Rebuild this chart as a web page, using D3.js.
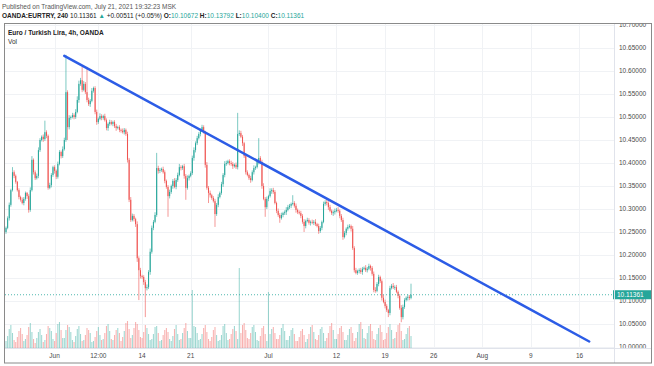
<!DOCTYPE html>
<html>
<head>
<meta charset="utf-8">
<script src="https://cdn.jsdelivr.net/npm/d3@7"></script>
<style>
    body { margin: 0; background: #fff; }
    svg { display: block; font-family: "Liberation Sans", Arial, sans-serif; }
</style>
</head>
<body>
<script>
// OANDA:EURTRY 4h bars
const startDate = "2021-05-25"
const barHours = 4
const firstOpen = 10.250

const closes = [
    10.259,10.280,10.309,10.341,10.380,10.372,10.359,10.341,10.326,10.320,
    10.313,10.322,10.335,10.328,10.298,10.341,10.407,10.380,10.367,10.372,
    10.428,10.450,10.457,10.452,10.467,10.459,10.346,10.352,10.374,10.391,
    10.383,10.370,10.398,10.424,10.415,10.430,10.450,10.554,10.478,10.498,
    10.500,10.504,10.500,10.511,10.537,10.572,10.580,10.559,10.572,10.554,
    10.537,10.528,10.535,10.557,10.563,10.511,10.489,10.496,10.502,10.498,
    10.502,10.493,10.476,10.485,10.489,10.485,10.489,10.480,10.476,10.478,
    10.472,10.470,10.467,10.472,10.463,10.407,10.320,10.276,10.285,10.278,
    10.267,10.193,10.167,10.154,10.152,10.141,10.128,10.130,10.163,10.207,
    10.259,10.272,10.287,10.389,10.383,10.385,10.387,10.380,10.361,10.348,
    10.328,10.337,10.350,10.361,10.348,10.363,10.374,10.391,10.389,10.393,
    10.372,10.346,10.367,10.372,10.378,10.411,10.428,10.443,10.454,10.463,
    10.472,10.478,10.467,10.396,10.346,10.335,10.330,10.324,10.317,10.289,
    10.309,10.326,10.335,10.354,10.374,10.398,10.400,10.404,10.400,10.398,
    10.393,10.396,10.391,10.463,10.465,10.457,10.443,10.415,10.380,10.374,
    10.367,10.363,10.380,10.389,10.391,10.402,10.411,10.402,10.350,10.322,
    10.304,10.322,10.328,10.339,10.341,10.337,10.313,10.296,10.287,10.280,
    10.287,10.291,10.293,10.298,10.304,10.307,10.311,10.313,10.307,10.298,
    10.293,10.291,10.285,10.272,10.263,10.274,10.276,10.270,10.272,10.270,
    10.272,10.267,10.263,10.252,10.259,10.272,10.311,10.315,10.313,10.304,
    10.296,10.291,10.293,10.296,10.298,10.296,10.285,10.276,10.239,10.248,
    10.257,10.261,10.263,10.257,10.215,10.167,10.161,10.165,10.167,10.163,
    10.170,10.172,10.167,10.170,10.176,10.172,10.159,10.124,10.122,10.137,
    10.152,10.143,10.107,10.098,10.089,10.080,10.074,10.128,10.133,10.130,
    10.130,10.120,10.111,10.085,10.065,10.087,10.102,10.107,10.109,10.10672,
    10.11361
]

// wick lengths above / below the body, in 0.001
const wickHi = [
    3,4,5,3,11,4,3,2,4,3, 5,4,3,2,4,6,8,3,4,5, 6,4,3,5,25,4,3,5,4,3, 4,3,5,4,3,6,5,81,4,6,
    3,5,4,6,8,7,5,29,6,4, 55,5,4,6,3,4,5,3,6,4, 3,5,4,3,5,4,3,4,5,3, 4,3,5,4,3,5,4,6,5,4,
    3,6,4,5,3,4,5,6,4,7, 5,4,6,33,5,4,3,5,4,3, 4,5,3,4,6,4,5,7,4,3, 5,4,6,3,4,5,6,4,5,4,
    3,5,4,3,6,4,5,3,4,5, 4,6,3,5,4,6,5,3,4,5, 4,3,5,46,6,5,4,3,5,4, 3,5,4,6,3,5,43,4,5,6,
    4,5,3,6,4,5,4,3,5,4, 5,3,4,6,5,4,3,17,4,5, 3,4,5,4,6,3,5,4,3,5, 4,6,3,5,4,3,5,4,6,4,
    5,3,4,5,4,6,3,4,5,4, 3,5,4,3,6,4,5,3,4,5, 4,3,6,4,5,3,4,5,6,4, 5,3,4,6,5,4,3,5,4,6,
    4,5,3,4,6,5,4,3,5,4, 24
]
const wickLo = [
    4,3,5,4,3,5,4,3,5,4, 3,5,4,6,6,4,3,5,4,3, 5,4,3,6,4,5,4,3,5,4, 6,5,4,3,5,4,3,4,28,5,
    4,3,5,4,3,6,4,5,3,4, 5,4,6,3,4,5,6,4,3,5, 4,3,5,6,4,3,5,4,6,3, 5,4,3,5,4,6,5,4,3,5,
    6,8,65,5,4,6,63,5,4,6, 4,5,3,4,6,5,4,3,5,4, 45,5,4,6,3,5,4,3,5,4, 6,26,4,5,3,4,6,5,4,3,
    5,4,3,6,4,22,5,4,3,28, 4,5,3,4,6,5,4,3,5,4, 6,3,4,5,4,3,6,4,5,3, 4,6,3,5,4,3,5,4,6,3,
    21,4,5,3,6,4,3,5,4,10, 3,5,4,6,3,4,5,3,4,6, 4,3,5,4,13,5,3,4,6,3, 5,4,3,6,4,5,3,4,5,6,
    3,4,6,5,3,4,5,4,6,3, 5,4,3,6,4,5,3,4,5,4, 6,3,4,5,3,6,4,5,4,3, 5,4,6,3,5,4,9,5,3,4,
    6,3,5,4,11,5,4,3,6,5, 3
]

const volumes = [
    700,1200,1900,2300,1500,800,   600,1100,1700,2000,1400,700,   900,1300,2100,2500,1600,900,
    500,1000,1600,1900,1300,600,   800,1400,2200,2000,1700,900,   700,1500,2400,2600,1800,1000,
    1000,1800,2300,2100,1600,800,  600,1200,1900,2200,1400,700,   800,1300,2000,1800,1500,600,
    700,1100,1700,2100,1300,800,   900,1500,2200,2400,1700,900,   800,1300,1800,2000,1500,700,
    1100,1700,2500,2700,1900,1000, 1300,2000,2600,2400,1800,1100, 1000,1600,2300,2000,1400,800,
    900,1400,2100,2200,1500,700,   800,1300,1800,2000,1600,900,   700,1200,1900,2300,1400,800,
    900,1500,2000,2500,1700,1000,  1000,5800,2200,2100,1500,800,  900,1400,2000,2300,1600,900,
    700,1100,1800,2100,1300,700,   800,1300,2200,2400,1500,800,   900,1400,1900,2200,1700,900,
    8000,1500,2300,2500,1800,1000, 900,1500,2100,2300,1600,800,   700,1200,2000,2200,1400,700,
    5600,1400,1900,2100,1500,900,  900,1300,2000,2400,1700,800,   800,1200,1800,2000,1400,700,
    700,1100,1700,1900,1300,600,   900,1400,2100,2300,1600,900,   800,1300,1900,2100,1500,700,
    1000,1500,2200,2500,1800,900,  900,1400,2000,2200,1600,800,   800,1300,1900,2100,1500,700,
    1000,1600,2400,2600,1900,1000, 900,1500,2200,2400,1700,900,   800,1400,2000,2300,1600,800,
    900,1500,2100,2400,1800,900,   1000,1600,2300,2500,1700,800,  900,1400,2000,2200,1200
]

const priceTicks = [10.00, 10.05, 10.10, 10.15, 10.20, 10.25, 10.30, 10.35,
    10.40, 10.45, 10.50, 10.55, 10.60, 10.65, 10.70]
const timeTickDates = ["2021-06-01", "2021-06-07T12:00", "2021-06-14", "2021-06-21", "2021-07-01",
    "2021-07-12", "2021-07-19", "2021-07-26", "2021-08-02", "2021-08-09", "2021-08-16"]
const timeTickLabels = ["Jun", "12:00", "14", "21", "Jul", "12", "19", "26", "Aug", "9", "16"]

const trendDates = ["2021-06-02T00:00", "2021-08-17T00:00"]
const trendPrices = [10.633, 10.012]

const lastBar = {o: 10.10672, h: 10.13792, l: 10.10400, c: 10.11361, chg: 0.00511, pct: 0.05}

const UP = "#26a69a", DOWN = "#ef5350"
const W = 654, H = 366
const plot = {left: 5, right: 614, top: 23, bottom: 348}

// weekdays since startDate (forex time axis skips weekends)
function tradingDay(s) {
    const t = new Date(s.length === 10 ? s + "T00:00:00Z" : s + ":00Z")
    const day = Date.UTC(t.getUTCFullYear(), t.getUTCMonth(), t.getUTCDate())
    let n = 0
    for (let d = new Date(startDate + "T00:00:00Z"); d.getTime() < day; d.setUTCDate(d.getUTCDate() + 1)) {
        const wd = d.getUTCDay()
        if (wd !== 0 && wd !== 6) n++
    }
    return n + t.getUTCHours() / 24
}

const bars = closes.map((c, i) => {
    const o = i === 0 ? firstOpen : closes[i - 1]
    return {
        d: i * barHours / 24,
        o: o, c: c,
        h: Math.max(o, c) + wickHi[i] / 1000,
        l: Math.min(o, c) - wickLo[i] / 1000,
        v: volumes[i]
    }
})

const x = d3.scaleLinear().domain([-0.103, 62.55]).range([plot.left, plot.right])
const y = d3.scaleLinear().domain([10.00, 10.70]).range([347, 25])
const yVol = d3.scaleLinear().domain([0, 8000]).range([plot.bottom, plot.bottom - 80])

const svg = d3.select("body").append("svg")
    .attr("width", W)
    .attr("height", H)

svg.append("clipPath").attr("id", "plotclip")
    .append("rect")
    .attr("x", plot.left).attr("y", plot.top)
    .attr("width", plot.right - plot.left).attr("height", plot.bottom - plot.top)

// grid
const grid = svg.append("g").attr("stroke", "#f0f2f5").attr("stroke-width", 1)
grid.selectAll("line.h").data(priceTicks).join("line")
    .attr("class", "h")
    .attr("x1", plot.left).attr("x2", plot.right)
    .attr("y1", d => Math.round(y(d)) + 0.5).attr("y2", d => Math.round(y(d)) + 0.5)
grid.selectAll("line.v").data(timeTickDates).join("line")
    .attr("class", "v")
    .attr("x1", d => Math.round(x(tradingDay(d))) + 0.5).attr("x2", d => Math.round(x(tradingDay(d))) + 0.5)
    .attr("y1", plot.top).attr("y2", plot.bottom)

const g = svg.append("g").attr("clip-path", "url(#plotclip)")
const bw = (x(1 / 6) - x(0)) * 0.65

// volume
g.append("g").selectAll("rect").data(bars).join("rect")
    .attr("x", d => x(d.d) - bw / 2)
    .attr("y", d => yVol(d.v))
    .attr("width", bw)
    .attr("height", d => plot.bottom - yVol(d.v))
    .attr("fill", d => d.c >= d.o ? UP : DOWN)
    .attr("opacity", 0.45)

// candles
const candle = g.append("g").selectAll("g").data(bars).join("g")
    .attr("fill", d => d.c >= d.o ? UP : DOWN)
    .attr("stroke", d => d.c >= d.o ? UP : DOWN)
candle.append("line")
    .attr("x1", d => x(d.d)).attr("x2", d => x(d.d))
    .attr("y1", d => y(d.h)).attr("y2", d => y(d.l))
    .attr("stroke-width", 0.8)
    .attr("opacity", 0.75)
candle.append("rect")
    .attr("stroke", "none")
    .attr("x", d => x(d.d) - bw / 2)
    .attr("y", d => y(Math.max(d.o, d.c)))
    .attr("width", bw)
    .attr("height", d => Math.max(0.8, Math.abs(y(d.o) - y(d.c))))

// last price line
g.append("line")
    .attr("x1", plot.left).attr("x2", plot.right)
    .attr("y1", y(lastBar.c)).attr("y2", y(lastBar.c))
    .attr("stroke", UP)
    .attr("stroke-width", 0.8)
    .attr("stroke-dasharray", "1,2")

// trend line
g.append("line")
    .attr("x1", x(tradingDay(trendDates[0]))).attr("y1", y(trendPrices[0]))
    .attr("x2", x(tradingDay(trendDates[1]))).attr("y2", y(trendPrices[1]))
    .attr("stroke", "#2c5ce6")
    .attr("stroke-width", 2.5)
    .attr("stroke-linecap", "round")

// price axis
svg.append("clipPath").attr("id", "axisclip")
    .append("rect")
    .attr("x", plot.right).attr("y", plot.top)
    .attr("width", W - plot.right).attr("height", plot.bottom - plot.top)
svg.append("g").attr("clip-path", "url(#axisclip)")
    .selectAll("text").data(priceTicks).join("text")
    .attr("x", 619)
    .attr("y", d => y(d) + 2.3)
    .attr("font-size", 6.5)
    .attr("fill", "#4a4a4a")
    .text(d => d3.format(".5f")(d))

svg.append("rect")
    .attr("x", 613).attr("y", y(lastBar.c) - 4.5)
    .attr("width", 39).attr("height", 9)
    .attr("fill", UP)
svg.append("text")
    .attr("x", 617).attr("y", y(lastBar.c) + 2.3)
    .attr("font-size", 6.5)
    .attr("fill", "#fff")
    .text(d3.format(".5f")(lastBar.c))

// time axis
svg.append("g").selectAll("text").data(timeTickDates).join("text")
    .attr("x", d => x(tradingDay(d)))
    .attr("y", 357.5)
    .attr("text-anchor", "middle")
    .attr("font-size", 6.5)
    .attr("fill", "#4a4a4a")
    .text((d, i) => timeTickLabels[i])

// frame and separators
svg.append("line")
    .attr("x1", plot.right + 0.5).attr("x2", plot.right + 0.5)
    .attr("y1", plot.top).attr("y2", 363)
    .attr("stroke", "#e0e3eb")
svg.append("line")
    .attr("x1", plot.left).attr("x2", 652)
    .attr("y1", plot.bottom + 0.5).attr("y2", plot.bottom + 0.5)
    .attr("stroke", "#e0e3eb")
svg.append("rect")
    .attr("x", 4.5).attr("y", 23.5)
    .attr("width", 647).attr("height", 339.5)
    .attr("fill", "none")
    .attr("stroke", "#8a8a8a")

// header
svg.append("text")
    .attr("x", 2).attr("y", 8.5)
    .attr("font-size", 6.5)
    .attr("fill", "#555")
    .text("Published on TradingView.com, July 21, 2021 19:32:23 MSK")

const fmt = d3.format(".5f")
const hdr = svg.append("text")
    .attr("x", 2).attr("y", 17.5)
    .attr("font-size", 6.5)
    .attr("fill", "#222")
hdr.append("tspan").attr("font-weight", "bold").text("OANDA:EURTRY, 240")
hdr.append("tspan").text(" " + fmt(lastBar.c) + " ")
hdr.append("tspan").attr("fill", UP).text("▲")
hdr.append("tspan").text(" +" + fmt(lastBar.chg) + " (+" + lastBar.pct.toFixed(2) + "%) ")
const ohlc = [["O", lastBar.o], ["H", lastBar.h], ["L", lastBar.l], ["C", lastBar.c]]
ohlc.forEach(([k, v]) => {
    hdr.append("tspan").attr("font-weight", "bold").text(k + ":")
    hdr.append("tspan").attr("fill", UP).text(fmt(v) + " ")
})

svg.append("text")
    .attr("x", 8).attr("y", 34.5)
    .attr("font-size", 6.5)
    .attr("font-weight", "bold")
    .attr("fill", "#222")
    .text("Euro / Turkish Lira, 4h, OANDA")
svg.append("text")
    .attr("x", 8).attr("y", 44)
    .attr("font-size", 6.5)
    .attr("fill", "#333")
    .text("Vol")
</script>
</body>
</html>
